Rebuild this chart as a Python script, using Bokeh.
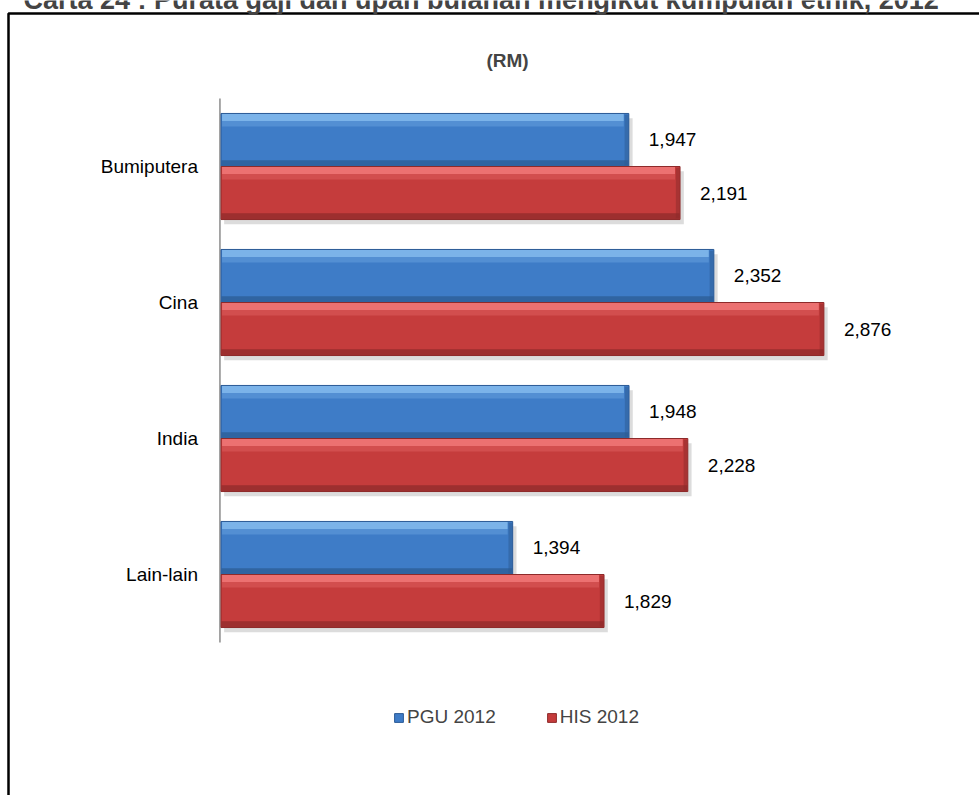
from bokeh.plotting import figure
from bokeh.models import (ColumnDataSource, Range1d, Label, Legend, LegendItem,
                          BoxAnnotation)
from bokeh.transform import dodge
from bokeh.core.properties import value
from bokeh.embed import file_html
from bokeh.resources import INLINE

# ---- data ----
categories = ["Bumiputera", "Cina", "India", "Lain-lain"]
pgu_2012 = [1947, 2352, 1948, 1394]
his_2012 = [2191, 2876, 2228, 1829]
series_names = ["PGU 2012", "HIS 2012"]
title_text = "Carta 24 :  Purata gaji dan upah bulanan mengikut kumpulan etnik, 2012"
unit_text = "(RM)"

FONT = "Liberation Sans"
FS = "19px"

n = len(categories)
src = ColumnDataSource(dict(
    cat=categories,
    pos=[n - 1 - i for i in range(n)],      # first category at top
    zero=[0] * n,
    pgu=pgu_2012,
    his=his_2012,
    pgu_lbl=[f"{v:,}" for v in pgu_2012],
    his_lbl=[f"{v:,}" for v in his_2012],
))

W, HGT = 979, 795
p = figure(width=W, height=HGT, output_backend="svg", toolbar_location=None,
           x_range=Range1d(-1045, 3617), y_range=Range1d(-1.625, 4.2206),
           min_border=0, min_border_left=0, min_border_right=0,
           min_border_top=0, min_border_bottom=0)
p.outline_line_color = None
p.grid.visible = False
p.axis.visible = False

# outer box (only the left and top sides fall inside the window)
p.add_layout(BoxAnnotation(left=8, right=1400, top=HGT - 13, bottom=-400,
                           left_units="screen", right_units="screen",
                           top_units="screen", bottom_units="screen",
                           fill_alpha=0, line_color="black", line_alpha=1.0,
                           line_width=2.5))

# category axis line
p.segment(x0=0, x1=0, y0=-0.5, y1=n - 0.5, line_color="#8c8c8c", line_width=1.5)

H = 0.39
series = [
    ("pgu", +H / 2, "#3e7cc7", "#86bdee", "#2b5a92", "#2a5a96"),
    ("his", -H / 2, "#c53c3c", "#f27a7a", "#8c2a2a", "#8e2a2a"),
]
main_renderers = []
for col, off, c_main, c_light, c_dark, c_edge in series:
    # soft shadow
    p.hbar(y=dodge("pos", off - 0.035), right=dodge(col, 18), left=20,
           height=H, source=src, fill_color="#9a9a9a", fill_alpha=0.35, line_color=None)
    # main bar
    r = p.hbar(y=dodge("pos", off), right=col, left=5, height=H,
               source=src, fill_color=c_main, line_color=c_edge, line_width=1)
    main_renderers.append(r)
    # top highlight
    p.hbar(y=dodge("pos", off + H / 2 - 0.03), right=dodge(col, -24), left=10,
           height=0.052, source=src, fill_color=c_light, fill_alpha=0.85, line_color=None)
    p.hbar(y=dodge("pos", off + H / 2 - 0.075), right=dodge(col, -24), left=10,
           height=0.04, source=src, fill_color=c_light, fill_alpha=0.3, line_color=None)
    # bottom shade
    p.hbar(y=dodge("pos", off - H / 2 + 0.024), right=dodge(col, -2), left=7,
           height=0.045, source=src, fill_color=c_dark, fill_alpha=0.7, line_color=None)
    # right bevel
    p.hbar(y=dodge("pos", off), right=dodge(col, -2), left=dodge(col, -20),
           height=H - 0.02, source=src, fill_color=c_dark, fill_alpha=0.5, line_color=None)
    # value labels
    p.text(x=col, y=dodge("pos", off), text=col + "_lbl", x_offset=20,
           source=src, text_font=value(FONT), text_font_size=FS,
           text_baseline="middle", text_align="left", text_color="#000000")

# category labels
p.text(x="zero", y="pos", text="cat", x_offset=-22, source=src,
       text_font=value(FONT), text_font_size=FS, text_baseline="middle",
       text_align="right", text_color="#000000")

legend = Legend(items=[LegendItem(label=series_names[0], renderers=[main_renderers[0]]),
                       LegendItem(label=series_names[1], renderers=[main_renderers[1]])],
                orientation="horizontal", location=(393, 67), padding=0, margin=0,
                spacing=50, glyph_width=11, glyph_height=11, label_standoff=3,
                label_height=20, label_text_font=FONT, label_text_font_size=FS,
                background_fill_alpha=0, border_line_color=None)
p.add_layout(legend, "center")

p.add_layout(Label(x=507, y=HGT - 60, x_units="screen", y_units="screen", text=unit_text,
                   text_font=FONT, text_font_size=FS, text_font_style="bold",
                   text_align="center", text_baseline="middle"))
p.add_layout(Label(x=23, y=HGT + 1, x_units="screen", y_units="screen", text=title_text,
                   text_font=FONT, text_font_size="27px", text_font_style="bold",
                   text_align="left", text_baseline="alphabetic"))

open("out.html", "w").write(file_html(p, INLINE))
